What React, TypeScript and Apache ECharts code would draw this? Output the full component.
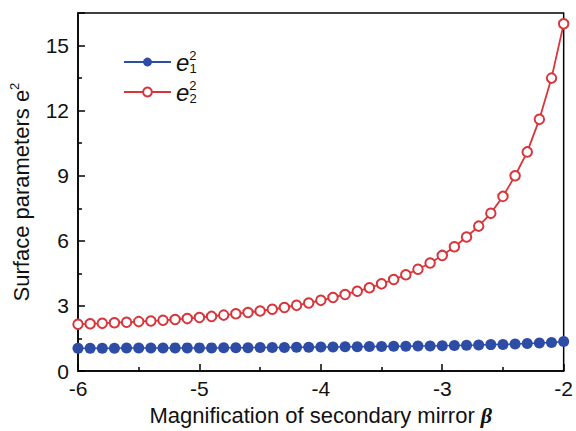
import React, { useEffect, useRef } from "react";
import * as echarts from "echarts";

const beta = [
  -6.0, -5.9, -5.8, -5.7, -5.6, -5.5, -5.4, -5.3, -5.2, -5.1,
  -5.0, -4.9, -4.8, -4.7, -4.6, -4.5, -4.4, -4.3, -4.2, -4.1,
  -4.0, -3.9, -3.8, -3.7, -3.6, -3.5, -3.4, -3.3, -3.2, -3.1,
  -3.0, -2.9, -2.8, -2.7, -2.6, -2.5, -2.4, -2.3, -2.2, -2.1, -2.0,
];

const e1sq = [
  1.05, 1.05, 1.05, 1.05, 1.06, 1.06, 1.06, 1.06, 1.07, 1.07,
  1.07, 1.07, 1.08, 1.08, 1.08, 1.09, 1.09, 1.09, 1.10, 1.10,
  1.11, 1.11, 1.12, 1.12, 1.13, 1.13, 1.14, 1.15, 1.16, 1.16,
  1.17, 1.18, 1.19, 1.20, 1.22, 1.23, 1.25, 1.27, 1.29, 1.32, 1.36,
];

const e2sq = [
  2.16, 2.18, 2.20, 2.23, 2.25, 2.28, 2.31, 2.34, 2.38, 2.42,
  2.47, 2.52, 2.58, 2.64, 2.70, 2.77, 2.85, 2.93, 3.03, 3.14,
  3.26, 3.39, 3.53, 3.68, 3.84, 4.02, 4.22, 4.44, 4.69, 4.98,
  5.33, 5.73, 6.18, 6.68, 7.27, 8.05, 9.0, 10.1, 11.6, 13.5, 16.0,
];

const seriesNames = ["e1", "e2"];
const xTitle = "Magnification of secondary mirror ";
const yTitle = "Surface parameters e";

const BLUE = "#2d4ca6";
const RED = "#d8353b";
const FONT = "'Liberation Sans', Arial, sans-serif";

export default function App() {
  const ref = useRef<HTMLDivElement>(null);
  useEffect(() => {
    if (!ref.current) return;
    const chart = echarts.init(ref.current, null, { renderer: "svg" });
    const pairs = (ys: number[]) => beta.map((b, i) => [b, ys[i]]);
    chart.setOption({
      animation: false,
      backgroundColor: "#ffffff",
      textStyle: { fontFamily: FONT },
      grid: {
        left: 78,
        right: 7,
        top: 13,
        bottom: 54,
        show: true,
        borderColor: "#000",
        borderWidth: 1.5,
      },
      legend: {
        orient: "vertical",
        left: 118,
        top: 44,
        itemWidth: 47,
        itemHeight: 11,
        itemGap: 4,
        data: seriesNames,
        textStyle: {
          fontFamily: FONT,
          fontSize: 24,
          color: "#111",
          lineHeight: 26,
          rich: {
            e: { fontFamily: FONT, fontStyle: "italic", fontSize: 24, color: "#111", lineHeight: 26 },
            sp: { fontFamily: FONT, fontSize: 13, color: "#111", verticalAlign: "top", lineHeight: 26, width: 0.1 },
            sb: { fontFamily: FONT, fontSize: 13, color: "#111", verticalAlign: "bottom", lineHeight: 22 },
          },
        },
        formatter: (name: string) =>
          `{e|e}{sp|2}{sb|${name === "e1" ? "1" : "2"}}`,
      },
      xAxis: {
        type: "value",
        min: -6,
        max: -2,
        interval: 1,
        name: xTitle + "{b|β}",
        nameLocation: "middle",
        nameGap: 29,
        nameTextStyle: {
          fontFamily: FONT,
          fontSize: 22,
          color: "#111",
          rich: {
            b: {
              fontFamily: "'Liberation Serif', 'DejaVu Serif', serif",
              fontStyle: "italic",
              fontWeight: "bold",
              fontSize: 22,
              color: "#111",
            },
          },
        },
        axisLine: { lineStyle: { color: "#000", width: 1.5 } },
        axisTick: { inside: true, length: 7, lineStyle: { color: "#000", width: 1.5 } },
        minorTick: { show: true, splitNumber: 2, length: 4, lineStyle: { color: "#000", width: 1.5 } },
        axisLabel: { fontFamily: FONT, fontSize: 21, color: "#111", margin: 7 },
        splitLine: { show: false },
      },
      yAxis: {
        type: "value",
        min: 0,
        max: 16.5,
        interval: 3,
        name: yTitle + "{sp|2}",
        nameLocation: "middle",
        nameRotate: 90,
        nameGap: 44,
        nameTextStyle: {
          fontFamily: FONT,
          fontSize: 22,
          color: "#111",
          rich: {
            sp: { fontFamily: FONT, fontSize: 13, color: "#111", verticalAlign: "top", lineHeight: 26 },
          },
        },
        axisLine: { lineStyle: { color: "#000", width: 1.5 } },
        axisTick: { inside: true, length: 7, lineStyle: { color: "#000", width: 1.5 } },
        minorTick: { show: true, splitNumber: 2, length: 4, lineStyle: { color: "#000", width: 1.5 } },
        axisLabel: { fontFamily: FONT, fontSize: 21, color: "#111", margin: 9, showMaxLabel: false },
        splitLine: { show: false },
      },
      series: [
        {
          name: "e1",
          type: "line",
          data: pairs(e1sq),
          symbol: "circle",
          symbolSize: 11,
          lineStyle: { color: BLUE, width: 1.5 },
          itemStyle: { color: BLUE, borderColor: BLUE, borderWidth: 0 },
          z: 3,
        },
        {
          name: "e2",
          type: "line",
          data: pairs(e2sq),
          symbol: "circle",
          symbolSize: 9.5,
          lineStyle: { color: RED, width: 1.8 },
          itemStyle: { color: "#ffffff", borderColor: RED, borderWidth: 2 },
          z: 2,
        },
      ],
    });
    return () => chart.dispose();
  }, []);
  return (
    <div
      ref={ref}
      style={{ position: "fixed", left: 0, top: 0, width: 576, height: 431 }}
    />
  );
}
